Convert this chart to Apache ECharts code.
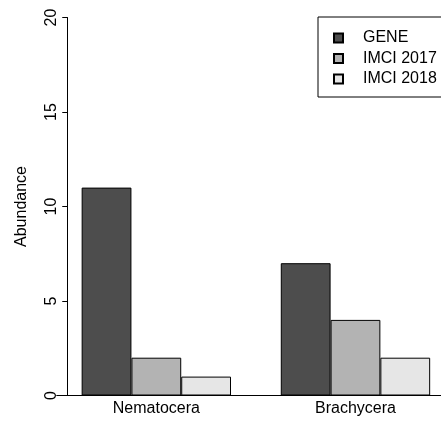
<!DOCTYPE html>
<html>
<head>
<meta charset="utf-8">
<script src="https://cdn.jsdelivr.net/npm/echarts@6/dist/echarts.min.js"></script>
<style>
  html, body { margin: 0; padding: 0; background: #fff; }
  #chart { width: 441px; height: 421px; }
</style>
</head>
<body>
<div id="chart"></div>
<script>
// Abundance of the two Diptera suborders per survey
const categories = ['Nematocera', 'Brachycera'];
const seriesNames = ['GENE', 'IMCI 2017', 'IMCI 2018'];
const gene = [11, 7];
const imci2017 = [2, 4];
const imci2018 = [1, 2];
const yTickStep = 5;
const yMax = 20;

const font = 'Liberation Sans, Arial, Helvetica, sans-serif';
const fills = ['#4d4d4d', '#b3b3b3', '#e6e6e6'];
const values = [gene, imci2017, imci2018];

const chart = echarts.init(document.getElementById('chart'), null, { renderer: 'canvas' });

chart.setOption({
  animation: false,
  backgroundColor: '#fff',
  textStyle: { fontFamily: font, color: '#000' },
  grid: {
    left: 56.75,
    top: 17.5,
    width: 398.3,
    bottom: 25.5,
    containLabel: false,
    outerBoundsMode: 'none'
  },
  legend: {
    orient: 'vertical',
    left: 318,
    top: 17,
    padding: [13, 24, 10, 15],
    itemGap: 4.5,
    itemWidth: 9,
    itemHeight: 9,
    icon: 'rect',
    borderColor: '#000',
    borderWidth: 1,
    textStyle: {
      fontFamily: font, fontSize: 16, lineHeight: 16, color: '#000',
      padding: [0, 0, 0, 15]
    },
    data: seriesNames
  },
  xAxis: {
    type: 'category',
    data: categories,
    axisLine: { show: true, lineStyle: { color: '#000', width: 1 } },
    axisTick: { show: false },
    axisLabel: { fontFamily: font, fontSize: 16, color: '#000', margin: 5 }
  },
  yAxis: {
    type: 'value',
    min: 0,
    max: yMax,
    interval: yTickStep,
    offset: -10.5,
    name: 'Abundance',
    nameLocation: 'middle',
    nameRotate: 90,
    nameGap: 38,
    nameTextStyle: { fontFamily: font, fontSize: 16, color: '#000' },
    axisLine: { show: true, lineStyle: { color: '#000', width: 1 } },
    axisTick: { show: true, length: 5, lineStyle: { color: '#000' } },
    axisLabel: { rotate: 90, fontFamily: font, fontSize: 16, color: '#000', margin: 8 },
    splitLine: { show: false }
  },
  series: seriesNames.map((name, i) => ({
    name: name,
    type: 'bar',
    data: values[i],
    barGap: '0%',
    barCategoryGap: '25%',
    itemStyle: { color: fills[i], borderColor: '#000', borderWidth: 1 }
  }))
});
</script>
</body>
</html>
